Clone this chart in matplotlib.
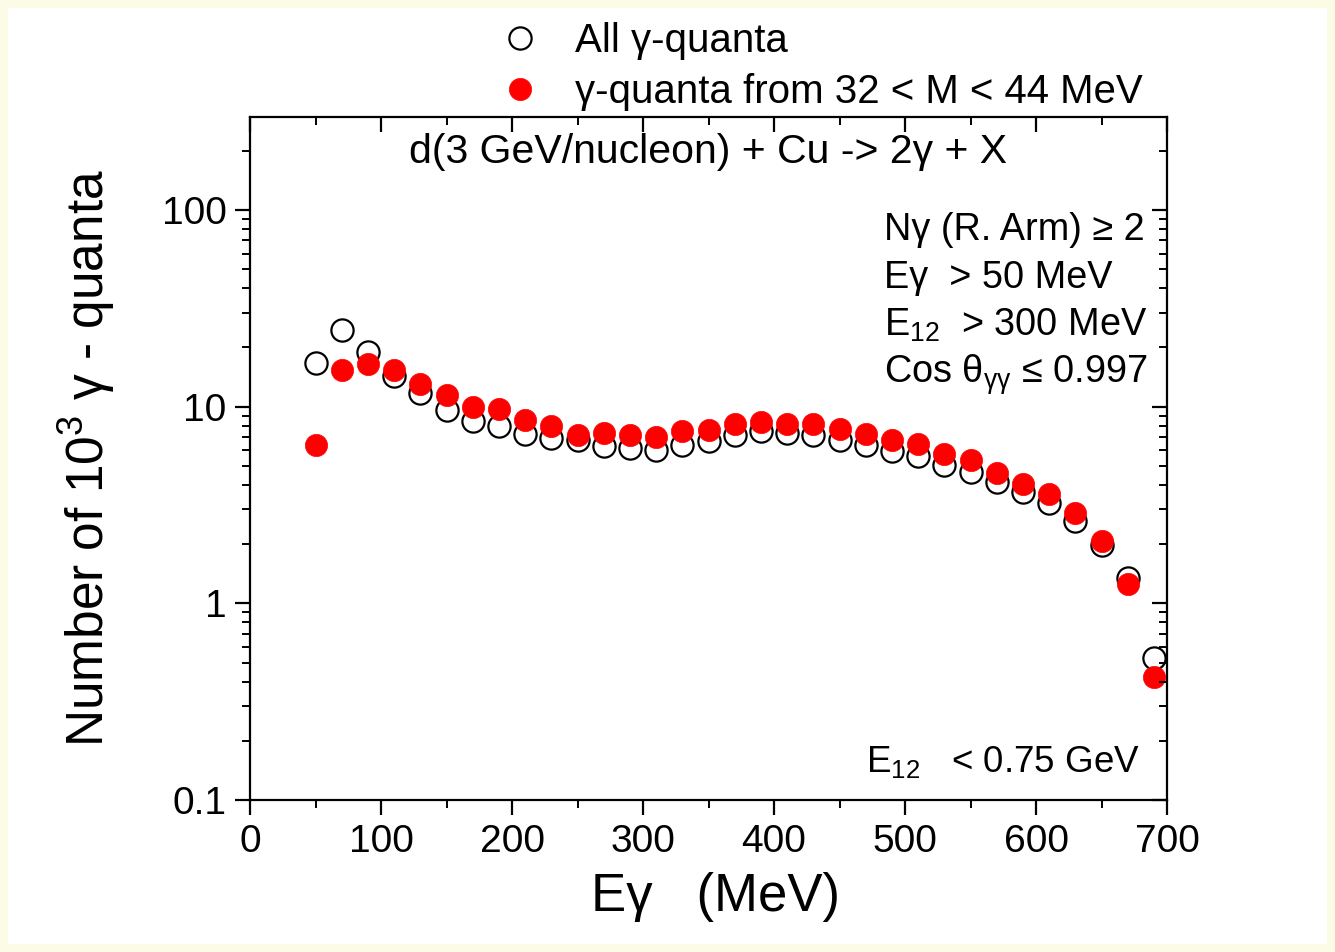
import matplotlib
matplotlib.use("Agg")
import matplotlib.pyplot as plt
from matplotlib.patches import Rectangle
from matplotlib.ticker import MultipleLocator, LogLocator, NullFormatter, FixedFormatter, FixedLocator

plt.rcParams['font.family'] = ['Liberation Sans', 'DejaVu Sans']
plt.rcParams['mathtext.fontset'] = 'custom'
plt.rcParams['mathtext.rm'] = 'Liberation Sans'
plt.rcParams['mathtext.it'] = 'Liberation Sans:italic'

# photon energy bins (MeV)
e_gamma = [50, 70, 90, 110, 130, 150, 170, 190, 210, 230, 250, 270, 290, 310, 330, 350, 370,
           390, 410, 430, 450, 470, 490, 510, 530, 550, 570, 590, 610, 630, 650, 670, 690]

# all gamma-quanta, units of 10^3
n_all = [16.7, 24.4, 18.9, 14.3, 11.7, 9.66, 8.42, 7.94, 7.29, 6.93, 6.80, 6.28, 6.17, 6.05,
         6.41, 6.67, 7.21, 7.50, 7.36, 7.21, 6.80, 6.41, 5.93, 5.59, 5.08, 4.64, 4.13, 3.67,
         3.24, 2.62, 1.99, 1.35, 0.53]

# gamma-quanta from pairs with 32 < M < 44 MeV
n_sel = [6.41, 15.3, 16.5, 15.3, 13.1, 11.4, 10.0, 9.78, 8.59, 7.94, 7.21, 7.36, 7.21, 6.98,
         7.50, 7.64, 8.17, 8.36, 8.17, 8.17, 7.71, 7.29, 6.80, 6.47, 5.75, 5.34, 4.61, 4.02,
         3.60, 2.89, 2.07, 1.25, 0.42]

y_ticks = [0.1, 1, 10, 100]
y_tick_labels = ['0.1', '1', '10', '100']

W, H = 1335, 952
fig = plt.figure(figsize=(W / 100, H / 100), dpi=100)
fig.patch.set_facecolor('#fcfbe6')
fig.patches.append(Rectangle((8 / W, 8 / H), 1 - 16 / W, 1 - 16 / H, transform=fig.transFigure,
                             facecolor='white', edgecolor='none', zorder=-10))

pos = [250 / W, 1 - 800 / H, (1167 - 250) / W, (800 - 117) / H]
ax = fig.add_axes(pos)
ax.set_yscale('log')
ax.set_xlim(0, 700)
ax.set_ylim(0.1, 297)

h_all, = ax.plot(e_gamma, n_all, 'o', ms=16, mfc='white', mec='black', mew=1.6,
                 label='All \u03b3-quanta', zorder=3)
h_sel, = ax.plot(e_gamma, n_sel, 'o', ms=16, mfc='#ff0000', mec='#ff0000', mew=0.5,
                 label='\u03b3-quanta from 32 < M < 44 MeV', zorder=4)

for s in ax.spines.values():
    s.set_linewidth(1.6)

ax.xaxis.set_major_locator(MultipleLocator(100))
ax.xaxis.set_minor_locator(MultipleLocator(50))
ax.yaxis.set_major_locator(FixedLocator(y_ticks))
ax.yaxis.set_major_formatter(FixedFormatter(y_tick_labels))
ax.yaxis.set_minor_locator(LogLocator(base=10, subs=range(2, 10)))
ax.yaxis.set_minor_formatter(NullFormatter())
ax.tick_params(which='major', direction='out', length=11, width=1.6, labelsize=28, pad=6)
ax.tick_params(which='minor', direction='out', length=6, width=1.4)

# inward ticks on top and right
ax2 = fig.add_axes(pos, frameon=False)
ax2.set_yscale('log')
ax2.set_xlim(ax.get_xlim())
ax2.set_ylim(ax.get_ylim())
ax2.xaxis.set_major_locator(MultipleLocator(100))
ax2.xaxis.set_minor_locator(MultipleLocator(50))
ax2.yaxis.set_major_locator(FixedLocator(y_ticks))
ax2.yaxis.set_minor_locator(LogLocator(base=10, subs=range(2, 10)))
ax2.yaxis.set_minor_formatter(NullFormatter())
ax2.tick_params(which='both', direction='in', left=False, bottom=False, top=True, right=True,
                labelleft=False, labelbottom=False, labeltop=False, labelright=False)
ax2.tick_params(which='major', length=11, width=1.6)
ax2.tick_params(which='minor', length=6, width=1.4)
ax2.patch.set_visible(False)

ax.set_xlabel('E\u03b3   (MeV)', fontsize=38, labelpad=14)
ax.xaxis.set_label_coords(0.508, -0.105)
ax.set_ylabel('Number of 10$^3$ \u03b3 - quanta', fontsize=37, labelpad=32)

ax.text(0.5, 1 - (152 - 117) / (800 - 117), 'd(3 GeV/nucleon) + Cu -> 2\u03b3 + X',
        transform=ax.transAxes, ha='center', va='center', fontsize=29.5)

tx = (884 - 250) / (1167 - 250)
cuts = ['N\u03b3 (R. Arm) \u2265 2',
        'E\u03b3  > 50 MeV',
        'E$_{12}$  > 300 MeV',
        'Cos \u03b8$_{\\mathrm{\u03b3\u03b3}}$ \u2264 0.997']
line_y = [230, 278, 325, 375]
for line, yp in zip(cuts, line_y):
    yy = 1 - (yp - 117) / (800 - 117)
    ax.text(tx, yy, line, transform=ax.transAxes, ha='left', va='center', fontsize=27.3)

ax.text((866 - 250) / (1167 - 250), 1 - (762 - 117) / (800 - 117), 'E$_{12}$   < 0.75 GeV',
        transform=ax.transAxes, ha='left', va='center', fontsize=26.5)

fig.legend(handles=[h_all, h_sel], loc='upper left', bbox_to_anchor=(480 / W, 1 - 6 / H),
           frameon=False, fontsize=29, handletextpad=0.75, labelspacing=0.33,
           borderaxespad=0, handlelength=1.2)

fig.savefig('out.png', dpi=100, facecolor=fig.get_facecolor())
